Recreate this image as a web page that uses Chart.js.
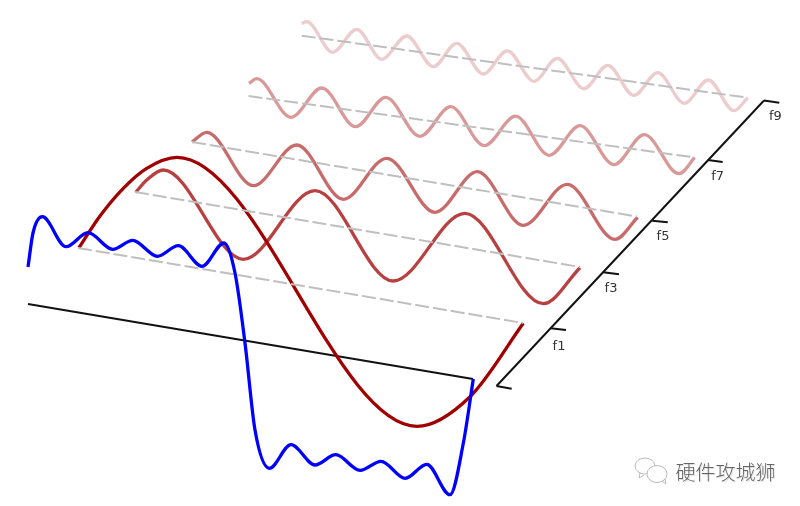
<!DOCTYPE html>
<html>
<head>
<meta charset="utf-8">
<style>html,body{margin:0;padding:0;background:#fff}canvas{display:block}</style>
<script src="https://cdn.jsdelivr.net/npm/chart.js@4"></script>
</head>
<body>
<canvas id="c" width="800" height="506"></canvas>
<script>
const sumWave = [[28,267],[33,233],[42.3,216.7],[66,246.7],[88,232.7],[112.7,249.3],[132.7,240.3],[157.3,256.3],[178.3,245.7],[202,266.3],[224,243],[235,273],[245,343],[255,430],[269.3,468.3],[291,444.7],[315,465],[335.7,454.7],[360,470.3],[381,461.3],[405.3,478.3],[426.7,464.3],[450,494.7],[463.3,443.3],[473.3,379]];
const f1Wave = [[79,247.7],[100,216],[123.3,188.3],[146.7,168.3],[177,157.3],[417,426.3],[470,396.7],[523.3,323.3]];
const f3Wave = [[135.7,192.3],[146.7,180],[163.3,170],[243.3,259.3],[315,190.7],[393.3,281],[465,213.3],[543.3,303.7],[580,267.7]];
const f5Wave = [[192,142],[206.7,132.3],[253.3,185.7],[296.7,145],[343.3,199.3],[386.7,158.3],[435,212.3],[477.3,171.7],[523.3,225.3],[567.3,184.3],[615,239.3],[637.7,217.3]];
const f7Wave = [[249,83.3],[256.7,78.7],[291,117.3],[321.7,88],[355.7,126.7],[385.7,97.3],[420,136.3],[450.7,106.7],[484.3,145.7],[515.5,116.2],[549.3,155.3],[580,125.7],[614,164.7],[644.3,134.7],[679,173.7],[694.7,157.7]];
const f9Wave = [[301.7,23.3],[306.7,21.7],[332.7,52.3],[356.7,29.3],[381.7,59.3],[406.7,36],[433.3,66.7],[456.7,43.3],[483.3,74],[507.3,50.8],[534,81.3],[557.3,58.3],[584,88.7],[607.7,65.3],[634,95.3],[657.7,72.7],[684.3,103.3],[708.3,80],[734,110.7],[747.7,97.7]];
const rails = [
  [[78,248],[523,323]],
  [[135,192],[580,267]],
  [[192,142],[637,216.5]],
  [[248.5,96],[695,157.5]],
  [[301.7,35.7],[747.7,97.7]]
];
const baseLine = [[28,304],[473,379]];
const depthAxis = [[496.5,386],[764,100.5]];
const depthTicks = [
  [[496.5,386],[511.7,388.7]],
  [[550.7,328.3],[566,330]],
  [[603.3,272.3],[619,274.3]],
  [[652.3,220.7],[667.7,222.3]],
  [[707.7,160],[722.7,162]],
  [[764,100.5],[779.3,102.7]]
];
const tickLabels = ['f1','f3','f5','f7','f9'];
const tickLabelAt = [[559,346.5],[611,288.3],[663,236.7],[717.7,177],[775.3,116.7]];
const watermark = '硬件攻城狮';

const pts = a => a.map(p => ({x:p[0], y:p[1]}));
const curve = (data,color) => ({data:pts(data),borderColor:color,borderWidth:3.3,cubicInterpolationMode:'monotone',pointRadius:0,fill:false});
const straight = (data,color,width,dash) => ({data:pts(data),borderColor:color,borderWidth:width,borderDash:dash||[],tension:0,pointRadius:0,fill:false});

const overlay = {
  id:'overlay',
  afterDraw(ch){
    const c = ch.ctx, X = ch.scales.x, Y = ch.scales.y;
    c.save();
    c.fillStyle = '#333';
    c.font = '13px "DejaVu Sans"';
    c.textAlign = 'center';
    c.textBaseline = 'middle';
    tickLabels.forEach((t,i)=>c.fillText(t,X.getPixelForValue(tickLabelAt[i][0]),Y.getPixelForValue(tickLabelAt[i][1])));
    c.font = '300 20px "Noto Sans CJK SC"';
    c.textAlign = 'left';
    c.fillStyle = 'rgba(0,0,0,0.12)';
    c.fillText(watermark,X.getPixelForValue(676.5),Y.getPixelForValue(473));
    c.fillStyle = '#666';
    c.fillText(watermark,X.getPixelForValue(675.5),Y.getPixelForValue(472));
    c.strokeStyle = '#bbb';
    c.lineWidth = 1;
    c.beginPath();
    c.ellipse(X.getPixelForValue(645),Y.getPixelForValue(466),10,8,0,0,Math.PI*2);
    c.stroke();
    c.beginPath();
    c.moveTo(X.getPixelForValue(640),Y.getPixelForValue(473));
    c.lineTo(X.getPixelForValue(639),Y.getPixelForValue(478));
    c.lineTo(X.getPixelForValue(644),Y.getPixelForValue(475));
    c.stroke();
    c.fillStyle = '#fff';
    c.beginPath();
    c.ellipse(X.getPixelForValue(657),Y.getPixelForValue(474),10,8.5,0,0,Math.PI*2);
    c.fill(); c.stroke();
    c.beginPath();
    c.moveTo(X.getPixelForValue(662),Y.getPixelForValue(481));
    c.lineTo(X.getPixelForValue(666),Y.getPixelForValue(484));
    c.lineTo(X.getPixelForValue(665),Y.getPixelForValue(479));
    c.stroke();
    c.restore();
  }
};

const datasets = [
  curve(sumWave,'#0000ff'),
  straight(rails[0],'#bfbfbf',2,[14,4]),
  straight(rails[1],'#bfbfbf',2,[14,4]),
  straight(rails[2],'#bfbfbf',2,[14,4]),
  straight(rails[3],'#bfbfbf',2,[14,4]),
  straight(rails[4],'#bfbfbf',2,[14,4]),
  curve(f1Wave,'#a00000'),
  curve(f3Wave,'rgba(160,0,0,0.75)'),
  curve(f5Wave,'rgba(160,0,0,0.58)'),
  curve(f7Wave,'rgba(160,0,0,0.4)'),
  curve(f9Wave,'rgba(160,0,0,0.2)'),
  straight(baseLine,'#111',2),
  straight(depthAxis,'#111',2),
  ...depthTicks.map(t=>straight(t,'#111',2))
];

new Chart(document.getElementById('c'),{
  type:'scatter',
  data:{datasets:datasets.map(d=>Object.assign(d,{showLine:true}))},
  options:{
    responsive:false,animation:false,
    layout:{padding:0},
    plugins:{legend:{display:false},tooltip:{enabled:false}},
    scales:{
      x:{type:'linear',min:0,max:800,display:false},
      y:{type:'linear',min:0,max:506,reverse:true,display:false}
    }
  },
  plugins:[overlay]
});
</script>
</body>
</html>
